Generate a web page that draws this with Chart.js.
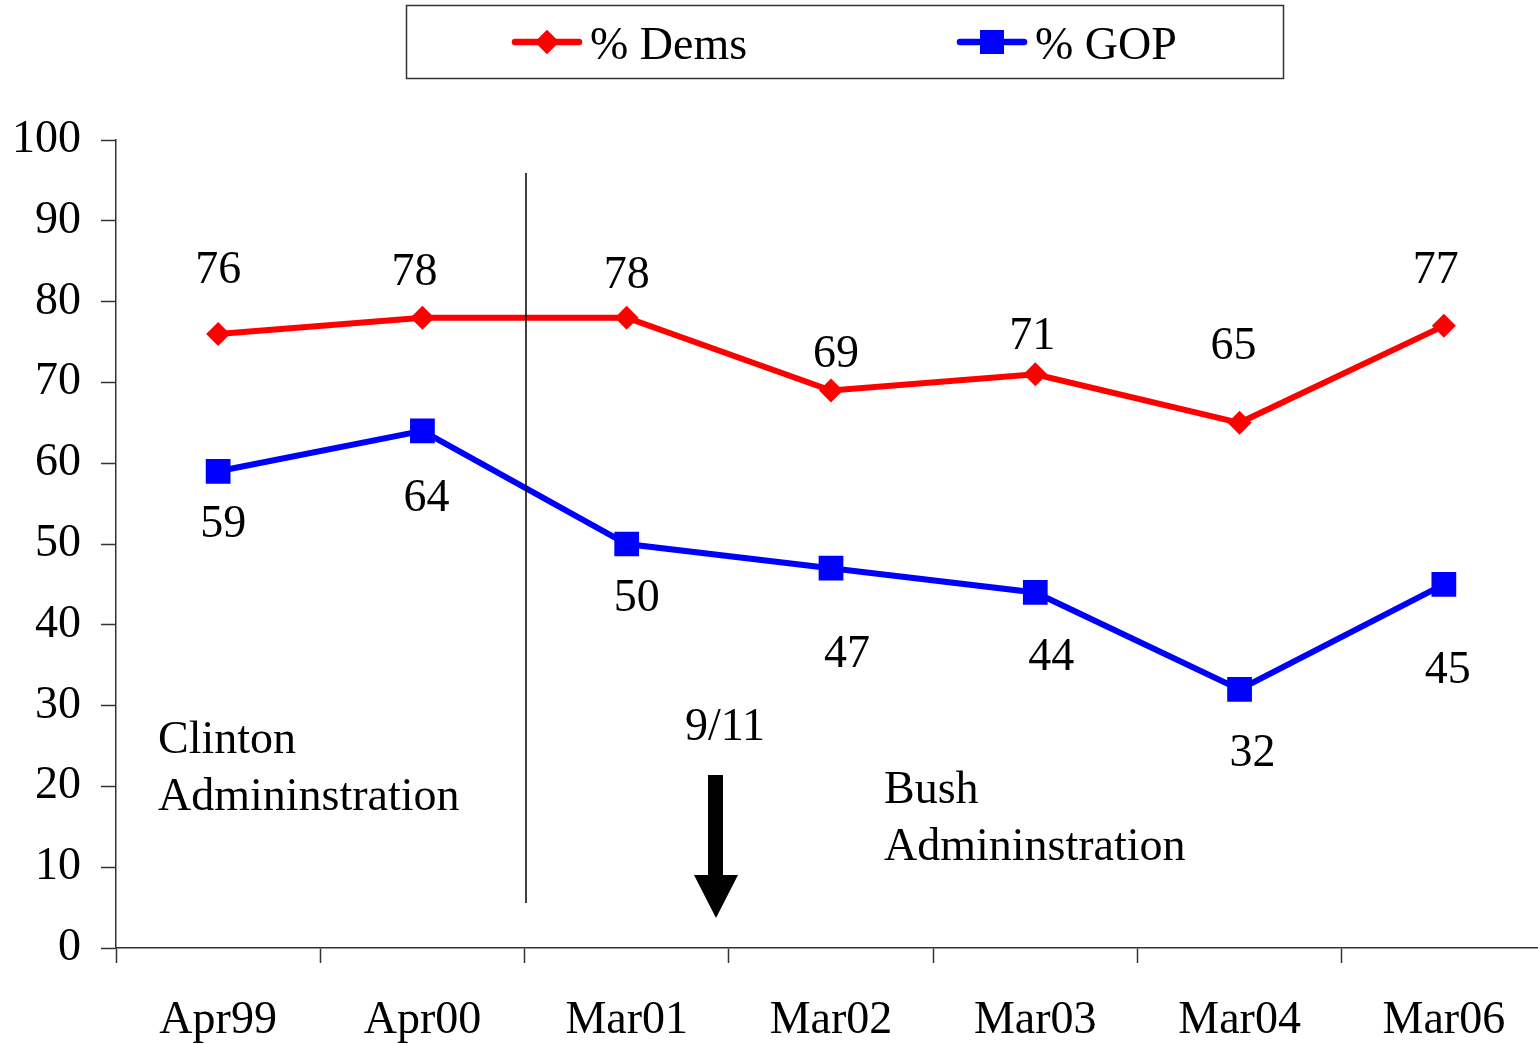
<!DOCTYPE html>
<html lang="en">
<head>
  <meta charset="UTF-8" />
  <title>% Dems vs % GOP</title>
  <script src="https://cdn.jsdelivr.net/npm/chart.js"></script>
  <style>
    html, body { margin: 0; padding: 0; background: white; overflow: hidden; }
    canvas { display: block; }
  </style>
</head>
<body>
  <canvas id="chart" width="1546" height="1044"></canvas>
  <script>
    const labels = ['Apr99', 'Apr00', 'Mar01', 'Mar02', 'Mar03', 'Mar04', 'Mar06'];
    const dems = [76, 78, 78, 69, 71, 65, 77];
    const gop = [59, 64, 50, 47, 44, 32, 45];
    const yTicks = [0, 10, 20, 30, 40, 50, 60, 70, 80, 90, 100];

    // where each value label sits relative to its point (px)
    const demsLabelOffset = [[0, -63], [-8, -45], [0, -42], [5, -36], [-3, -37], [-6, -76], [-8, -55]];
    const gopLabelOffset = [[5, 54], [4, 68], [10, 55], [16, 87], [16, 65], [13, 64], [4, 87]];

    const FONT = '"Liberation Serif", "Times New Roman", serif';

    const extras = {
      id: 'extras',
      afterDatasetsDraw(chart) {
        const ctx = chart.ctx;
        ctx.save();
        ctx.font = '46px ' + FONT;
        ctx.fillStyle = '#000';
        ctx.textAlign = 'center';
        ctx.textBaseline = 'middle';
        [[0, dems, demsLabelOffset], [1, gop, gopLabelOffset]].forEach(([i, vals, off]) => {
          chart.getDatasetMeta(i).data.forEach((pt, j) => {
            ctx.fillText(String(vals[j]), pt.x + off[j][0], pt.y + off[j][1]);
          });
        });

        // divider between administrations
        ctx.strokeStyle = '#000';
        ctx.lineWidth = 1.5;
        ctx.beginPath();
        ctx.moveTo(526, 173);
        ctx.lineTo(526, 903);
        ctx.stroke();

        ctx.textAlign = 'left';
        ctx.fillText('Clinton', 158, 741);
        ctx.fillText('Admininstration', 158, 798);
        ctx.fillText('Bush', 884, 791);
        ctx.fillText('Admininstration', 884, 848);
        ctx.textAlign = 'center';
        ctx.fillText('9/11', 725, 728);

        // arrow
        ctx.fillStyle = '#000';
        ctx.fillRect(708, 775, 15, 102);
        ctx.beginPath();
        ctx.moveTo(694, 875);
        ctx.lineTo(738, 875);
        ctx.lineTo(716, 918);
        ctx.closePath();
        ctx.fill();

        // legend box
        ctx.strokeStyle = '#333';
        ctx.lineWidth = 1.5;
        ctx.strokeRect(406.5, 5.5, 877, 73);
        const items = [
          { x: 515, label: '% Dems', color: '#FF0000', style: 'rectRot', r: 12 },
          { x: 960, label: '% GOP', color: '#0000FF', style: 'rect', r: 17 }
        ];
        items.forEach(it => {
          ctx.strokeStyle = it.color;
          ctx.lineWidth = 6.5;
          ctx.lineCap = 'round';
          ctx.beginPath();
          ctx.moveTo(it.x, 42);
          ctx.lineTo(it.x + 64, 42);
          ctx.stroke();
          ctx.fillStyle = it.color;
          Chart.helpers.drawPoint(ctx, { pointStyle: it.style, radius: it.r, rotation: 0, borderWidth: 0 }, it.x + 32, 42);
          ctx.fill();
          ctx.fillStyle = '#000';
          ctx.textAlign = 'left';
          ctx.fillText(it.label, it.x + 75, 47);
        });
        ctx.restore();
      }
    };

    new Chart(document.getElementById('chart'), {
      type: 'line',
      data: {
        labels: labels,
        datasets: [
          {
            label: '% Dems',
            data: dems,
            borderColor: '#FF0000',
            backgroundColor: '#FF0000',
            borderWidth: 6,
            pointStyle: 'rectRot',
            pointRadius: 12,
            pointBorderWidth: 0,
            tension: 0
          },
          {
            label: '% GOP',
            data: gop,
            borderColor: '#0000FF',
            backgroundColor: '#0000FF',
            borderWidth: 6,
            pointStyle: 'rect',
            pointRadius: 17.5,
            pointBorderWidth: 0,
            tension: 0
          }
        ]
      },
      options: {
        responsive: false,
        animation: false,
        devicePixelRatio: 1,
        layout: { autoPadding: false, padding: { top: 140, right: 0, bottom: 0, left: 0 } },
        plugins: {
          legend: { display: false },
          tooltip: { enabled: false }
        },
        scales: {
          x: {
            offset: true,
            afterFit: s => { s.height = 96; s.paddingLeft = 0; s.paddingRight = 0; },
            grid: { drawOnChartArea: false, drawTicks: true, tickLength: 15, color: '#333', tickWidth: 1.5, offset: true },
            border: { color: '#333', width: 1.5 },
            ticks: { color: '#000', font: { family: FONT, size: 46 }, padding: 30, maxRotation: 0 }
          },
          y: {
            min: 0,
            max: 100,
            afterFit: s => { s.width = 116; },
            afterBuildTicks: s => { s.ticks = yTicks.map(v => ({ value: v })); },
            grid: { drawOnChartArea: false, drawTicks: true, tickLength: 15, color: '#333', tickWidth: 1.5 },
            border: { color: '#333', width: 1.5 },
            ticks: { color: '#000', font: { family: FONT, size: 46 }, padding: 20 }
          }
        }
      },
      plugins: [extras]
    });
  </script>
</body>
</html>
